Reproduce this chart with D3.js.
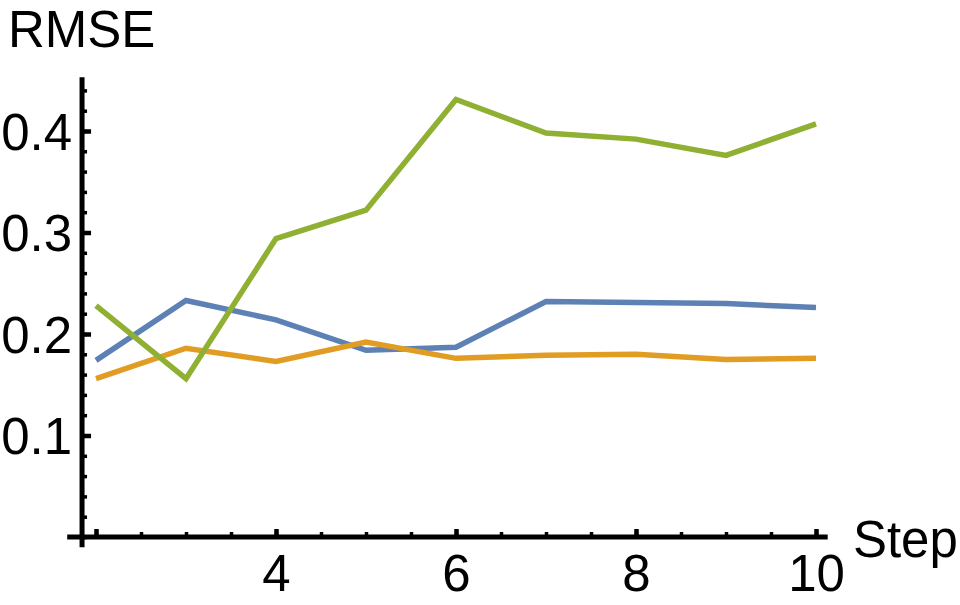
<!DOCTYPE html>
<html>
<head>
<meta charset="utf-8">
<script src="https://cdn.jsdelivr.net/npm/d3@7"></script>
<style>
    body { margin: 0; background: #fff; }
    svg { display: block; }
    .lab { font-family: "Liberation Sans", Arial, sans-serif; font-size: 51px; fill: #000; }
    .tick text { font-family: "Liberation Sans", Arial, sans-serif; font-size: 51px; fill: #000; }
</style>
</head>
<body>
<div id="chartdiv"></div>
<script>
/*global d3 */

//values
var steps = [2, 3, 4, 5, 6, 7, 8, 9, 10],
    blueVals = [0.174, 0.233, 0.214, 0.184, 0.187, 0.232, 0.231, 0.230, 0.226],
    orangeVals = [0.156, 0.186, 0.173, 0.192, 0.176, 0.179, 0.180, 0.175, 0.176],
    greenVals = [0.228, 0.156, 0.294, 0.322, 0.431, 0.398, 0.392, 0.376, 0.407],
    seriesColors = ["#5E81B5", "#E19C24", "#8FB032"],
    xMajor = [2, 4, 6, 8, 10],
    xLabels = ["", "4", "6", "8", "10"],
    yMajor = [0.1, 0.2, 0.3, 0.4],
    yLabels = ["0.1", "0.2", "0.3", "0.4"];

var chart = (function () {
    "use strict";

    var W = 960, H = 605;

    function makeScales () {
        return {x: d3.scaleLinear().domain([2, 10]).range([96, 816]),
                y: d3.scaleLinear().domain([0, 0.4]).range([537, 131])};
    }


    function minorTicks (lo, hi, step) {
        var ts = [], i, n = Math.round((hi - lo) / step);
        for(i = 0; i <= n; i += 1) {
            ts.push(+(lo + i * step).toFixed(4)); }
        return ts;
    }


    function drawXAxis (svg, sc) {
        var g, y0 = sc.y(0);
        g = svg.append("g").attr("transform", "translate(0," + y0 + ")");
        //minor ticks every half step, pointing up into the plot
        g.append("g")
            .call(d3.axisBottom(sc.x)
                  .tickValues(minorTicks(2, 10, 0.5))
                  .tickSizeInner(-5).tickSizeOuter(0)
                  .tickFormat(""))
            .call(function (a) {
                a.select(".domain").remove();
                a.selectAll("line").attr("stroke-width", 3.5); });
        g.append("g")
            .call(d3.axisBottom(sc.x)
                  .tickValues(xMajor)
                  .tickSizeInner(-8).tickSizeOuter(0)
                  .tickPadding(18)
                  .tickFormat(function (d, i) { return xLabels[i]; }))
            .call(function (a) {
                a.select(".domain").remove();
                a.selectAll("line").attr("stroke-width", 4.5); });
        g.append("line")
            .attr("x1", sc.x(1.68)).attr("x2", sc.x(10.13))
            .attr("stroke", "#000").attr("stroke-width", 5);
        svg.append("text").attr("class", "lab")
            .attr("x", sc.x(10.41)).attr("y", sc.y(0) + 20)
            .text("Step");
    }


    function drawYAxis (svg, sc) {
        var g, x0 = sc.x(1.845);
        g = svg.append("g").attr("transform", "translate(" + x0 + ",0)");
        g.append("g")
            .call(d3.axisLeft(sc.y)
                  .tickValues(minorTicks(0, 0.44, 0.02))
                  .tickSizeInner(-5).tickSizeOuter(0)
                  .tickFormat(""))
            .call(function (a) {
                a.select(".domain").remove();
                a.selectAll("line").attr("stroke-width", 3.5); });
        g.append("g")
            .call(d3.axisLeft(sc.y)
                  .tickValues(yMajor)
                  .tickSizeInner(-9).tickSizeOuter(0)
                  .tickPadding(10)
                  .tickFormat(function (d, i) { return yLabels[i]; }))
            .call(function (a) {
                a.select(".domain").remove();
                a.selectAll("line").attr("stroke-width", 4.5);
                a.selectAll("text").attr("dy", "0.36em"); });
        g.append("line")
            .attr("y1", sc.y(-0.01)).attr("y2", sc.y(0.453))
            .attr("stroke", "#000").attr("stroke-width", 5);
        svg.append("text").attr("class", "lab")
            .attr("x", 8).attr("y", 47)
            .text("RMSE");
    }


    function drawLines (svg, sc) {
        var line = d3.line()
            .x(function (d) { return sc.x(d.s); })
            .y(function (d) { return sc.y(d.v); });
        [blueVals, orangeVals, greenVals].forEach(function (vals, i) {
            var pts = steps.map(function (s, j) { return {s: s, v: vals[j]}; });
            svg.append("path")
                .datum(pts)
                .attr("d", line)
                .attr("fill", "none")
                .attr("stroke", seriesColors[i])
                .attr("stroke-width", 5.5)
                .attr("stroke-linejoin", "miter"); });
    }


    function display () {
        var sc = makeScales(), svg;
        svg = d3.select("#chartdiv").append("svg")
            .attr("width", W).attr("height", H);
        drawLines(svg, sc);
        drawXAxis(svg, sc);
        drawYAxis(svg, sc);
    }


return {
    init: function () {
        display();
    }
};
}());

chart.init();
</script>
</body>
</html>
